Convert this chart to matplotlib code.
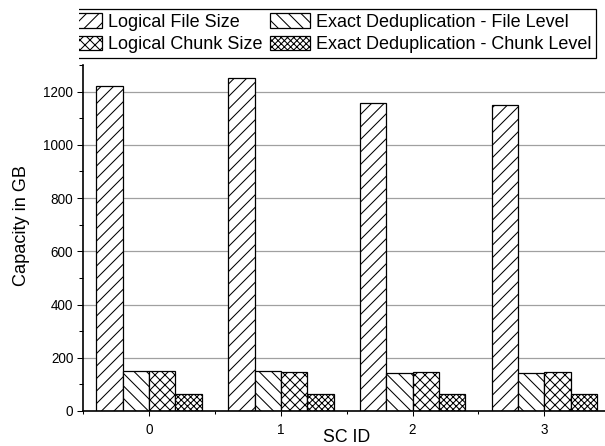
import matplotlib
matplotlib.use('Agg')
import matplotlib.pyplot as plt
import numpy as np
from matplotlib.ticker import MultipleLocator
from matplotlib.patches import Rectangle

# ---- data ----
sc_ids = [0, 1, 2, 3]
logical_file = [1222, 1252, 1158, 1148]
dedup_file = [152, 151, 143, 143]
logical_chunk = [150, 148, 146, 146]
dedup_chunk = [64, 64, 62, 62]
series_labels = ['Logical File Size', 'Exact Deduplication - File Level',
                 'Logical Chunk Size', 'Exact Deduplication - Chunk Level']

plt.rcParams['font.family'] = ['Liberation Sans', 'DejaVu Sans']
plt.rcParams['hatch.linewidth'] = 0.5
plt.rcParams['hatch.color'] = 'black'

DPI = 150
W, H = 605, 446
fig = plt.figure(figsize=(W / DPI, H / DPI), dpi=DPI)
ax = fig.add_axes([83.3 / W, 35 / H, 526.8 / W, 346 / H])

x = np.arange(len(sc_ids))
w = 0.2
series = [logical_file, dedup_file, logical_chunk, dedup_chunk]
hatches = ['////', '\\\\\\\\', 'xxxxx', 'xxxxxxxx']
bars = []
for i, (vals, h, lab) in enumerate(zip(series, hatches, series_labels)):
    b = ax.bar(x + (i - 1.5) * w, vals, w, facecolor='white', edgecolor='black',
               hatch=h, linewidth=0.6, label=lab, zorder=2)
    bars.append(b)

ax.set_xlim(-0.5, 3.5)
ax.set_ylim(0, 1300)
ax.set_xticks(x)
ax.set_xticklabels([str(s) for s in sc_ids])
ax.xaxis.set_minor_locator(MultipleLocator(0.5))
ax.yaxis.set_major_locator(MultipleLocator(200))
ax.yaxis.set_minor_locator(MultipleLocator(100))

for s in ['top', 'right']:
    ax.spines[s].set_visible(False)
for s in ['left', 'bottom']:
    ax.spines[s].set_linewidth(0.8)

ax.tick_params(axis='y', which='major', direction='out', length=2.9, width=0.5,
               labelsize=6.5, pad=1.9)
ax.tick_params(axis='y', which='minor', direction='out', length=1.9, width=0.5)
ax.tick_params(axis='x', which='major', direction='out', length=2.4, width=0.5,
               labelsize=6.5, pad=3.4)
ax.tick_params(axis='x', which='minor', direction='out', length=1.5, width=0.5)

ax.set_axisbelow(True)
ax.yaxis.grid(True, which='major', color='#a0a0a0', linewidth=0.6)

ax.set_ylabel('Capacity in GB', fontsize=8.7, va='center')
ax.yaxis.set_label_coords(-0.118, 0.535)
ax.set_xlabel('SC ID', fontsize=8.5, va='center')
ax.xaxis.set_label_coords(0.5, -0.0770)

order = [0, 2, 1, 3]
leg = fig.legend([bars[i] for i in order], [series_labels[i] for i in order],
                 ncol=2, loc='upper left',
                 bbox_to_anchor=(57.4 / W, 1 - 8.7 / H), bbox_transform=fig.transFigure,
                 borderaxespad=0, fontsize=8.64, frameon=True, fancybox=False,
                 edgecolor='black', framealpha=1, handlelength=2.2, handleheight=0.85,
                 handletextpad=0.35, columnspacing=0.45, labelspacing=0.3,
                 borderpad=0.25)
leg.get_frame().set_linewidth(0.6)

fig.add_artist(Rectangle((0, 1 - 62 / H), 79 / W, 62 / H, transform=fig.transFigure,
                         facecolor='white', edgecolor='none', zorder=10))

fig.savefig('out.png', dpi=DPI)
